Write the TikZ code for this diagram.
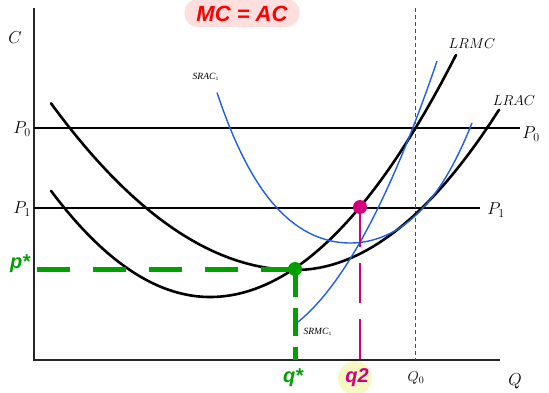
\documentclass[tikz,border=0pt]{standalone}
\usepackage{fontspec}
\newfontfamily\hand{Liberation Sans}
\newfontfamily\cam{Liberation Serif}
\begin{document}
\begin{tikzpicture}[x=1pt,y=-1pt,
  axis/.style={line width=2pt,draw=black!85},
  pline/.style={line width=1.4pt,draw=black},
  blk/.style={line width=2.6pt,draw=black},
  blu/.style={line width=1.4pt,draw=cblue},
  lab/.style={font=\fontsize{17}{19}\selectfont, inner sep=0pt},
  mlab/.style={font=\fontsize{14}{16}\selectfont, inner sep=0pt},
  slab/.style={font=\cam\itshape\fontsize{9.5}{10}\selectfont, inner sep=0pt},
  hnd/.style={font=\hand\bfseries\itshape\fontsize{20}{22}\selectfont, inner sep=0pt}]
\definecolor{cblue}{RGB}{30,95,230}
\definecolor{cgreen}{RGB}{0,160,0}
\definecolor{cmag}{RGB}{210,0,125}
\useasboundingbox (0,0) rectangle (549,393);
% title
\node[fill={rgb,255:red,255;green,222;blue,222}, rounded corners=13pt, minimum width=115pt, minimum height=28pt, inner sep=0pt] (title) at (242,13) {};
\node[hnd, text=red, font=\hand\bfseries\itshape\fontsize{22}{24}\selectfont] (titletxt) at (242,14) {MC = AC};
% axes
\coordinate (O) at (34,360);
\coordinate (ytop) at (34,8);
\coordinate (xend) at (500,360);
\draw[axis] (ytop) -- (O) -- (xend);
% price lines
\coordinate (p0l) at (34,128); \coordinate (p0r) at (520,128);
\coordinate (p1l) at (34,208); \coordinate (p1r) at (480,208);
\draw[pline] (p0l) -- (p0r);
\draw[pline] (p1l) -- (p1r);
% Q0 dashed
\coordinate (q0t) at (415,8); \coordinate (q0b) at (415,360);
\draw[black!70, line width=0.9pt, dash pattern=on 4pt off 3pt] (q0t) -- (q0b);
% LRAC
\draw[blk, line cap=round] plot[domain=51:295, samples=60] ({\x},{270-28*((\x-295)/100)^2})
   -- plot[domain=295:499, samples=60] ({\x},{270-38.5*((\x-295)/100)^2});
% LRMC
\draw[blk, line cap=round] plot[domain=51:210, samples=50] ({\x},{297-42*((\x-210)/100)^2})
   -- plot[domain=210:456, samples=70] ({\x},{297-40*((\x-210)/100)^2});
% SRAC
\draw[blu] plot[domain=217:472, samples=80] ({\x},{243-57.3*((\x-350)/100)^2-15.7*((\x-350)/100)^4});
% SRMC
\draw[blu] plot[domain=298:437, samples=60] ({\x},{322-81.1*((\x-298)/100)-76.7*((\x-298)/100)^2});
% green
\node[circle, fill=cgreen, minimum size=14pt, inner sep=0pt] (ge) at (295,269) {};
\coordinate (gl) at (37,269);
\coordinate (gb) at (295,360);
\draw[cgreen, line width=5pt, dash pattern=on 33pt off 23pt] (gl) -- (ge.center);
\draw[cgreen, line width=5pt, dash pattern=on 28pt off 11pt] (ge.center) -- (gb);
% magenta
\node[circle, fill=cmag, minimum size=14pt, inner sep=0pt] (me) at (360,207) {};
\coordinate (mb) at (360,360);
\draw[cmag, line width=2pt, dash pattern=on 40pt off 16pt] (me.center) -- (mb);
% labels
\node[lab] (lC) at (15,38) {$C$};
\node[lab] (lP0) at (22,129) {$P_0$};
\node[lab] (lP1) at (22,209) {$P_1$};
\node[lab] (lP0r) at (531,134) {$P_0$};
\node[lab] (lP1r) at (496,210) {$P_1$};
\node[mlab] (lLRMC) at (472,44) {$LRMC$};
\node[mlab] (lLRAC) at (514,101) {$LRAC$};
\node[mlab] (lQ0) at (416,378) {$Q_0$};
\node[lab] (lQ) at (515,381) {$Q$};
\node[slab] (lSRAC) at (206,77) {SRAC$_{\scriptscriptstyle 1}$};
\node[slab] (lSRMC) at (318,332) {SRMC$_{\scriptscriptstyle 1}$};
\node[hnd, text=cgreen] (lp) at (20,264) {p*};
\node[hnd, text=cgreen] (lq) at (293,378) {q*};
\node[circle, fill={rgb,255:red,245;green,248;blue,195}, minimum size=34pt, inner sep=0pt] (hl) at (355,378) {};
\node[hnd, text=cmag] (lq2) at (357,378) {q2};
\end{tikzpicture}
\end{document}
